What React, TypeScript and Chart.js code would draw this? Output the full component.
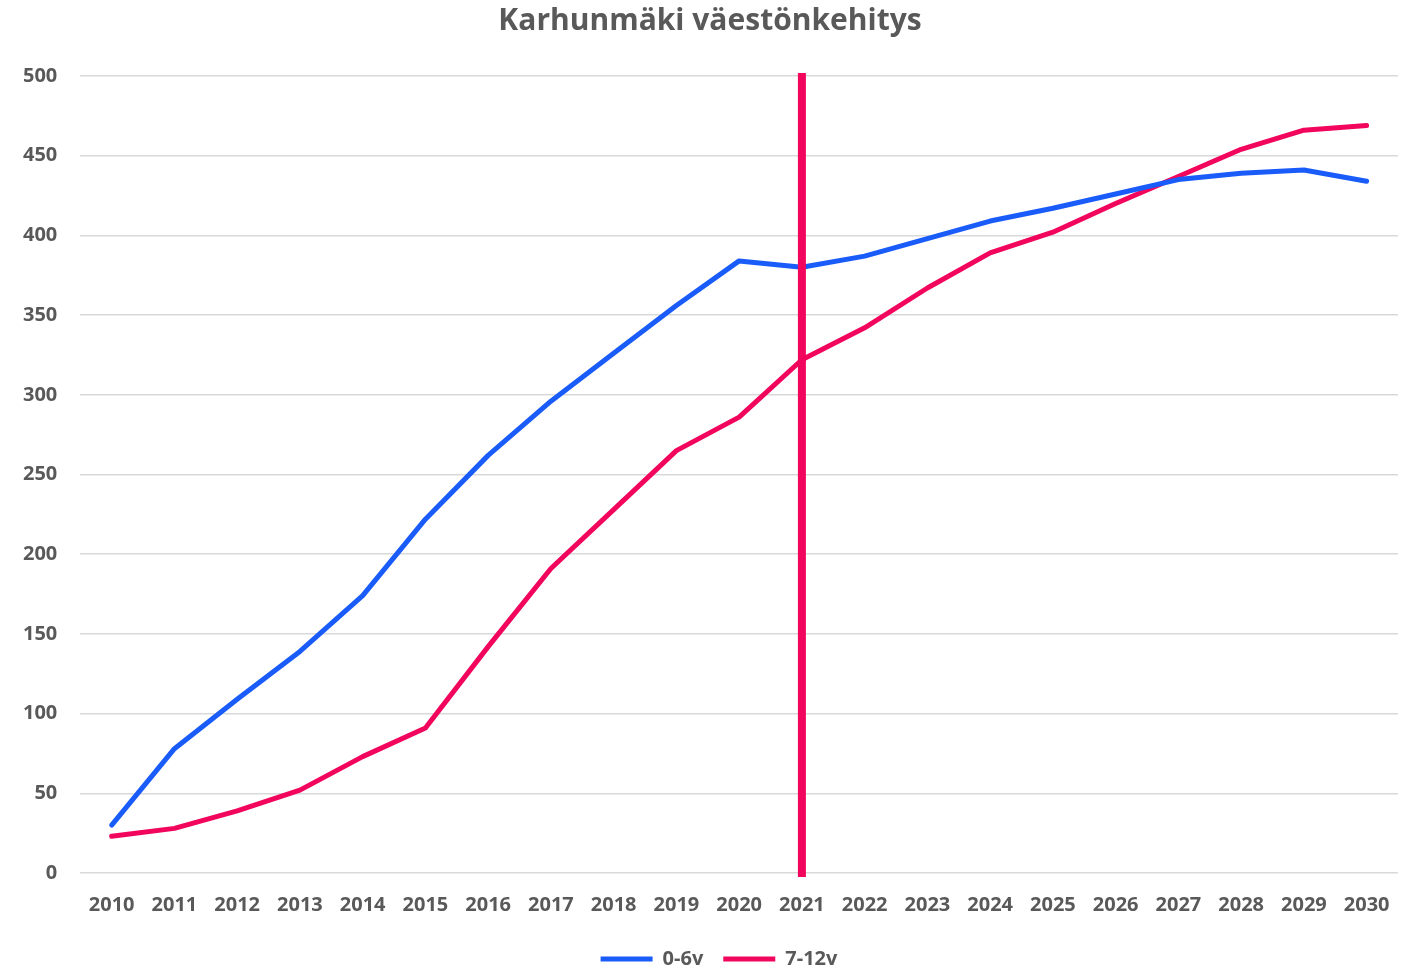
import React, { useEffect, useRef } from "react";
import { Chart, registerables } from "chart.js";

Chart.register(...registerables);

const title = "Karhunmäki väestönkehitys";
const years = ["2010","2011","2012","2013","2014","2015","2016","2017","2018","2019","2020","2021","2022","2023","2024","2025","2026","2027","2028","2029","2030"];
const age0to6 = [30, 78, 109, 139, 174, 222, 262, 296, 326, 356, 384, 380, 387, 398, 409, 417, 426, 435, 439, 441, 434];
const age7to12 = [23, 28, 39, 52, 73, 91, 142, 191, 228, 265, 286, 322, 342, 367, 389, 402, 420, 437, 454, 466, 469];
const seriesNames = ["0-6v", "7-12v"];
const markerYear = "2021";

const BLUE = "#1a5cfa";
const RED = "#f2055c";
const TEXT = "#595959";
const FONT = "'Open Sans', sans-serif";

const markerPlugin = {
  id: "yearMarker",
  beforeUpdate(chart: any) {
    const lg = chart.legend;
    if (lg && !lg._trimmed) {
      const fit = lg.fit;
      lg.fit = function (this: any) {
        fit.call(this);
        this.height -= 12;
      };
      lg._trimmed = true;
    }
  },
  afterLayout(chart: any) {
    if (chart.titleBlock) chart.titleBlock.left += 22;
    if (chart.legend) chart.legend.left += 40;
  },
  afterDatasetsDraw(chart: any) {
    const { ctx, chartArea, scales } = chart;
    const idx = years.indexOf(markerYear);
    const x = scales.x.getPixelForValue(idx);
    ctx.save();
    ctx.strokeStyle = RED;
    ctx.lineWidth = 8;
    ctx.beginPath();
    ctx.moveTo(x, chartArea.top - 3);
    ctx.lineTo(x, chartArea.bottom + 4);
    ctx.stroke();
    ctx.restore();
  },
};

export default function App() {
  const ref = useRef<HTMLCanvasElement>(null);
  useEffect(() => {
    document.body.style.margin = "0";
    const chart = new Chart(ref.current!, {
      type: "line",
      data: {
        labels: years,
        datasets: [
          { label: seriesNames[0], data: age0to6, borderColor: BLUE, backgroundColor: BLUE, borderWidth: 5, pointRadius: 0, tension: 0, borderCapStyle: "round", borderJoinStyle: "round" },
          { label: seriesNames[1], data: age7to12, borderColor: RED, backgroundColor: RED, borderWidth: 5, pointRadius: 0, tension: 0, borderCapStyle: "round", borderJoinStyle: "round" },
        ],
      },
      options: {
        animation: false,
        responsive: false,
        maintainAspectRatio: false,
        layout: { padding: { left: 0, right: 12, top: 0, bottom: 0 } },
        plugins: {
          title: {
            display: true,
            text: title,
            color: TEXT,
            font: { family: FONT, size: 30, weight: "bold" },
            padding: { top: 3, bottom: 37 },
          },
          legend: {
            position: "bottom",
            labels: {
              color: TEXT,
              font: { family: FONT, size: 20, weight: "bold" },
              boxWidth: 52,
              boxHeight: 5,
              padding: 20,
              useBorderRadius: true,
              borderRadius: 2.5,
              generateLabels: (c: any) =>
                c.data.datasets.map((d: any, i: number) => ({
                  text: d.label,
                  fillStyle: d.borderColor,
                  strokeStyle: d.borderColor,
                  lineWidth: 0,
                  fontColor: TEXT,
                  datasetIndex: i,
                  hidden: false,
                })),
            },
          },
          tooltip: { enabled: false },
        },
        scales: {
          x: {
            offset: true,
            grid: { display: false },
            border: { display: false },
            ticks: { color: TEXT, font: { family: FONT, size: 20, weight: "bold" }, padding: 12, maxRotation: 0, autoSkip: false },
          },
          y: {
            min: 0,
            max: 500,
            grid: { color: "#d9d9d9", lineWidth: 1.5, drawTicks: false },
            border: { display: false },
            ticks: { stepSize: 50, color: TEXT, font: { family: FONT, size: 20, weight: "bold" }, padding: 23 },
          },
        },
      },
      plugins: [markerPlugin],
    });
    return () => chart.destroy();
  }, []);
  return (
    <div style={{ width: 1410, height: 967, background: "#fff" }}>
      <canvas ref={ref} width={1410} height={967} style={{ display: "block" }} />
    </div>
  );
}
